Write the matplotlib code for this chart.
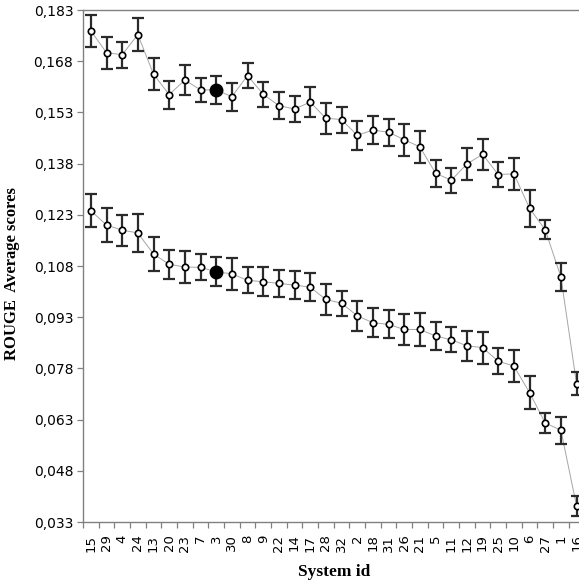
import numpy as np
import matplotlib
matplotlib.use('Agg')
import matplotlib.pyplot as plt
from matplotlib.ticker import FixedLocator, FuncFormatter

# system ids in plotted order
systems = ['15', '29', '4', '24', '13', '20', '23', '7', '3', '30', '8', '9', '22', '14', '17', '28',
           '32', '2', '18', '31', '26', '21', '5', '11', '12', '19', '25', '10', '6', '27', '1', '16']

# upper series (mean and confidence half-width)
upper = [0.1769, 0.1705, 0.1699, 0.1758, 0.1642, 0.1582, 0.1625, 0.1596, 0.1596, 0.1576, 0.1638,
         0.1583, 0.1550, 0.1540, 0.1560, 0.1513, 0.1509, 0.1463, 0.1478, 0.1472, 0.1450, 0.1429,
         0.1352, 0.1331, 0.1379, 0.1407, 0.1348, 0.1350, 0.1249, 0.1186, 0.1048, 0.0735]
upper_err = [0.0047, 0.0047, 0.0038, 0.0048, 0.0047, 0.0041, 0.0045, 0.0035, 0.0040, 0.0041, 0.0036,
             0.0037, 0.0040, 0.0039, 0.0044, 0.0046, 0.0038, 0.0042, 0.0042, 0.0040, 0.0047, 0.0046,
             0.0040, 0.0036, 0.0046, 0.0046, 0.0038, 0.0046, 0.0054, 0.0028, 0.0042, 0.0034]

# lower series
lower = [0.1242, 0.1200, 0.1185, 0.1177, 0.1115, 0.1085, 0.1077, 0.1076, 0.1063, 0.1057, 0.1038,
         0.1034, 0.1029, 0.1024, 0.1018, 0.0982, 0.0971, 0.0934, 0.0914, 0.0909, 0.0894, 0.0894,
         0.0875, 0.0864, 0.0846, 0.0841, 0.0801, 0.0787, 0.0709, 0.0620, 0.0599, 0.0377]
lower_err = [0.0048, 0.0049, 0.0045, 0.0056, 0.0049, 0.0042, 0.0047, 0.0038, 0.0043, 0.0046, 0.0038,
             0.0043, 0.0040, 0.0040, 0.0041, 0.0046, 0.0037, 0.0043, 0.0043, 0.0041, 0.0045, 0.0049,
             0.0040, 0.0036, 0.0045, 0.0047, 0.0038, 0.0046, 0.0049, 0.0028, 0.0040, 0.0029]

highlight = '3'
yticks = [0.033, 0.048, 0.063, 0.078, 0.093, 0.108, 0.123, 0.138, 0.153, 0.168, 0.183]

fig = plt.figure(figsize=(5.79, 5.86), dpi=100)
ax = fig.add_axes([83 / 579, 1 - 522 / 586, 501.4 / 579, 512 / 586])

x = np.arange(len(systems))
hi = systems.index(highlight)

for vals, errs in [(upper, upper_err), (lower, lower_err)]:
    ax.plot(x, vals, color='#a6a6a6', lw=0.7, zorder=1)
    ax.errorbar(x, vals, yerr=errs, fmt='none', ecolor='#2b2b2b', elinewidth=1.6,
                capsize=4.5, capthick=1.6, zorder=2)
    ax.plot(x, vals, 'o', ms=4.6, mfc='white', mec='black', mew=1.2, ls='none', zorder=3)
    ax.plot(x[hi], vals[hi], 'o', ms=9, mfc='black', mec='black', zorder=4)

ax.set_xlim(-0.5, len(systems) - 0.5)
ax.set_ylim(0.033, 0.183)
ax.set_yticks(yticks)
ax.yaxis.set_major_formatter(FuncFormatter(lambda v, p: ('%.3f' % v).replace('.', ',')))
ax.set_xticks(x)
ax.set_xticklabels(systems, rotation=90, fontsize=9.5, family='DejaVu Sans')
ax.xaxis.set_minor_locator(FixedLocator(np.arange(-0.5, len(systems), 1.0)))
ax.tick_params(axis='x', which='major', length=0, pad=9)
ax.tick_params(axis='x', which='minor', length=4.5, color='#808080', width=0.9)
ax.tick_params(axis='y', length=4, color='#808080', width=0.9, labelsize=10, pad=3)

for s in ['left', 'bottom', 'top']:
    ax.spines[s].set_color('#808080')
    ax.spines[s].set_linewidth(1.0)
ax.spines['right'].set_visible(False)

ax.set_ylabel('ROUGE  Average scores', fontsize=12, fontweight='bold',
              family='Liberation Serif', labelpad=7)
ax.yaxis.set_label_coords(-0.125, 0.485)
ax.set_xlabel('System id', fontsize=12.5, fontweight='bold', family='Liberation Serif', labelpad=9)

fig.savefig('out.png', dpi=100)
